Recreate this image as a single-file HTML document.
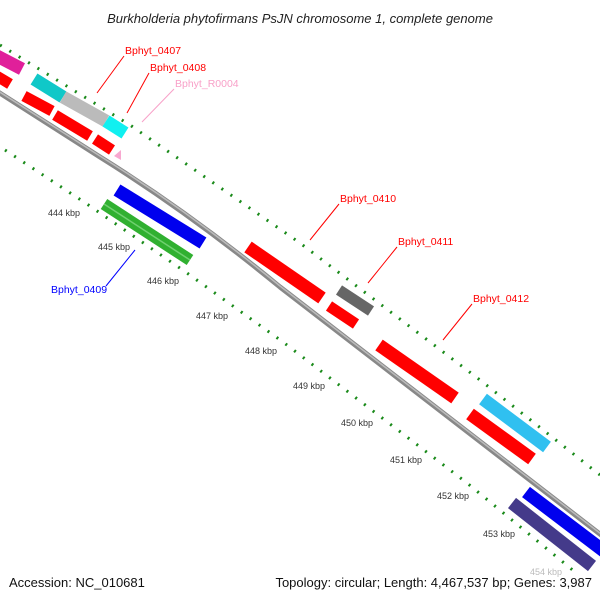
<!DOCTYPE html>
<html><head><meta charset="utf-8"><style>
html,body{margin:0;padding:0;background:#fff;}
svg{display:block;font-family:"Liberation Sans",sans-serif;}
</style></head><body>
<svg width="600" height="600" viewBox="0 0 600 600" xmlns="http://www.w3.org/2000/svg">
<rect width="600" height="600" fill="#fff"/>
<text x="300" y="23" text-anchor="middle" font-size="13" font-style="italic" fill="#222">Burkholderia phytofirmans PsJN chromosome 1, complete genome</text>

<!-- outer tick line -->
<path d="M0,45 L130,125 L300,243 L480,380 L600,475" fill="none" stroke="#1a8a1a" stroke-width="3" stroke-dasharray="2 9"/>
<!-- inner tick line -->
<path d="M5,150 L87,204 L187,273 L283,342 L467,483 L575,572" fill="none" stroke="#1a8a1a" stroke-width="3" stroke-dasharray="2 9"/>

<!-- backbone -->
<path d="M-5,90 L100,157 Q190,213 280,287 L605,538" fill="none" stroke="#888" stroke-width="5"/>
<path d="M-5,89 L100,156 Q190,212 280,286 L605,537" fill="none" stroke="#bbb" stroke-width="1.5"/>

<!-- outer row top-left -->
<line x1="-5" y1="55" x2="22" y2="69" stroke="#e0209a" stroke-width="13"/>
<line x1="34" y1="79" x2="63" y2="97" stroke="#10c8c8" stroke-width="13"/>
<line x1="63" y1="97" x2="106" y2="121" stroke="#bbb" stroke-width="13"/>
<line x1="106" y1="121" x2="125" y2="133" stroke="#10f0f0" stroke-width="13"/>
<!-- inner row top-left -->
<line x1="-5" y1="75" x2="10" y2="84" stroke="#f00" stroke-width="11"/>
<line x1="24" y1="96" x2="52" y2="111" stroke="#f00" stroke-width="11"/>
<line x1="55" y1="115" x2="90" y2="136" stroke="#f00" stroke-width="11"/>
<line x1="95" y1="139" x2="112" y2="150" stroke="#f00" stroke-width="11"/>
<polygon points="114,156 121,150 121,160" fill="#f8a8d0"/>

<!-- below backbone 0409 -->
<line x1="117" y1="190" x2="203" y2="243" stroke="#0000ee" stroke-width="13"/>
<line x1="104" y1="204" x2="190" y2="260" stroke="#30b030" stroke-width="12"/>
<line x1="104" y1="204" x2="190" y2="260" stroke="#70d070" stroke-width="1.5"/>

<!-- 0410 -->
<line x1="248" y1="247" x2="322" y2="298" stroke="#f00" stroke-width="13"/>
<line x1="339" y1="290" x2="371" y2="311" stroke="#666" stroke-width="11"/>
<line x1="329" y1="306" x2="356" y2="324" stroke="#f00" stroke-width="11"/>
<line x1="379" y1="345" x2="455" y2="398" stroke="#f00" stroke-width="13"/>
<line x1="483" y1="399" x2="547" y2="447" stroke="#30c0f0" stroke-width="13"/>
<line x1="470" y1="414" x2="532" y2="459" stroke="#f00" stroke-width="13"/>

<!-- bottom right -->
<line x1="526" y1="492" x2="605" y2="552" stroke="#0000ee" stroke-width="13"/>
<line x1="512" y1="503" x2="592" y2="566" stroke="#443a8a" stroke-width="13"/>

<!-- labels -->
<g font-size="10.5">
<text x="125" y="54" fill="#f00">Bphyt_0407</text>
<line x1="124" y1="56" x2="97" y2="93" stroke="#f00"/>
<text x="150" y="71" fill="#f00">Bphyt_0408</text>
<line x1="149" y1="73" x2="127" y2="113" stroke="#f00"/>
<text x="175" y="87" fill="#f8a0c8">Bphyt_R0004</text>
<line x1="174" y1="89" x2="142" y2="122" stroke="#f8a0c8"/>
<text x="340" y="202" fill="#f00">Bphyt_0410</text>
<line x1="339" y1="204" x2="310" y2="240" stroke="#f00"/>
<text x="398" y="245" fill="#f00">Bphyt_0411</text>
<line x1="397" y1="247" x2="368" y2="283" stroke="#f00"/>
<text x="473" y="302" fill="#f00">Bphyt_0412</text>
<line x1="472" y1="304" x2="443" y2="340" stroke="#f00"/>
<text x="51" y="293" fill="#00f">Bphyt_0409</text>
<line x1="106" y1="286" x2="135" y2="250" stroke="#00f"/>
</g>
<g font-size="9" fill="#333">
<text x="48" y="216">444 kbp</text>
<text x="98" y="250">445 kbp</text>
<text x="147" y="284">446 kbp</text>
<text x="196" y="319">447 kbp</text>
<text x="245" y="354">448 kbp</text>
<text x="293" y="389">449 kbp</text>
<text x="341" y="426">450 kbp</text>
<text x="390" y="463">451 kbp</text>
<text x="437" y="499">452 kbp</text>
<text x="483" y="537">453 kbp</text>
<text x="530" y="575" fill="#bbb">454 kbp</text>
</g>
<text x="9" y="587" font-size="13" fill="#111">Accession: NC_010681</text>
<text x="592" y="587" font-size="13" fill="#111" text-anchor="end">Topology: circular; Length: 4,467,537 bp; Genes: 3,987</text>
</svg>
</body></html>
